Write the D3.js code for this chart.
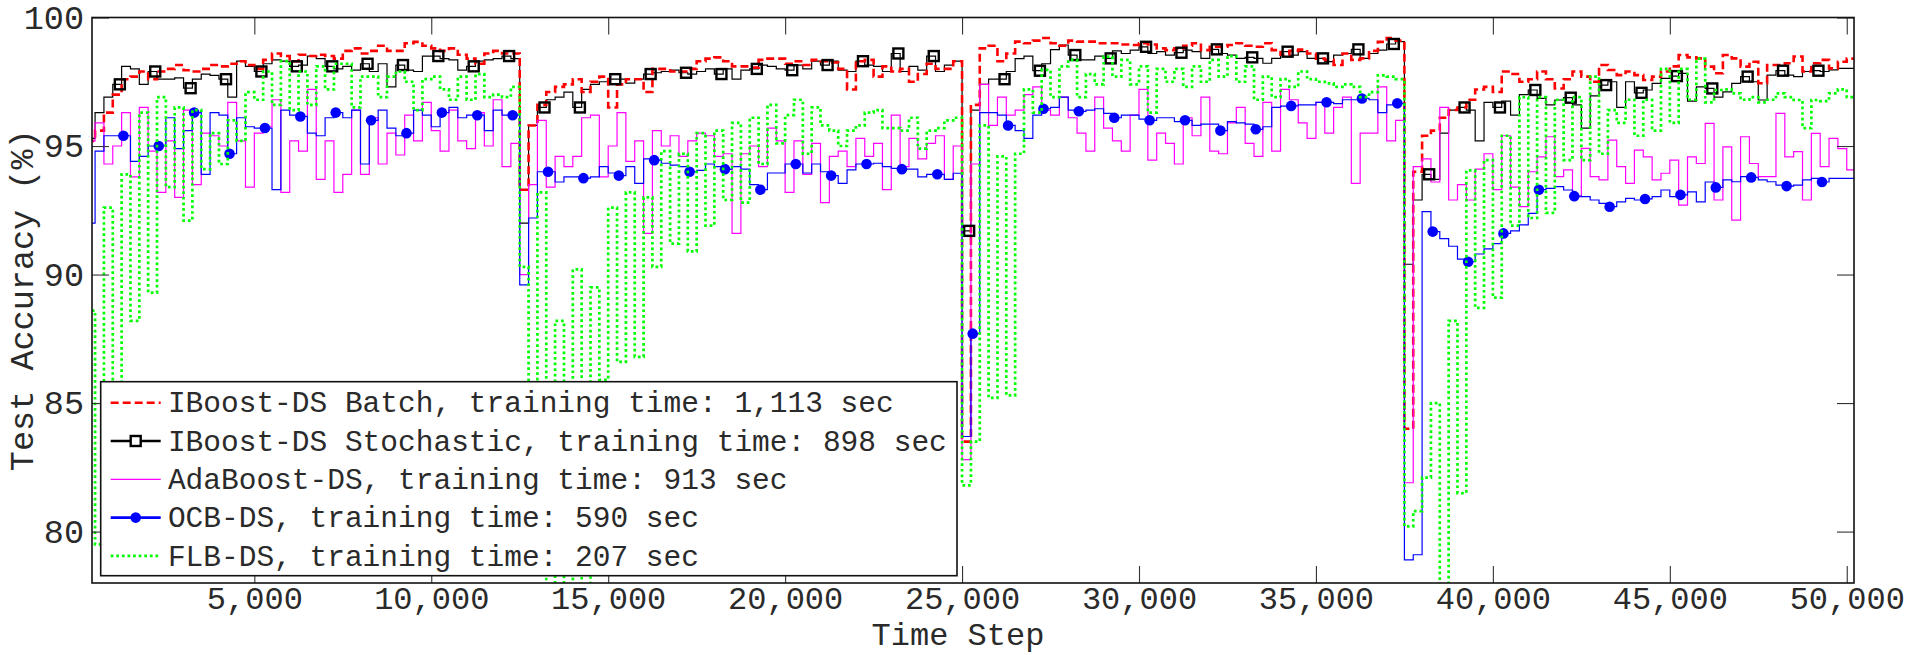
<!DOCTYPE html>
<html>
<head>
<meta charset="utf-8">
<script src="https://d3js.org/d3.v7.min.js"></script>
<style>
  html, body { margin: 0; padding: 0; background: #fff; }
  svg { display: block; }
  text { font-family: "Courier New", "Liberation Mono", monospace; fill: #2a2a2a; font-size: 33.5px; }
  text.legend-label { font-size: 29.5px; }
  .x-bottom text, text.x-title { font-size: 32px; }
</style>
</head>
<body>
<svg id="chart" width="1913" height="655"></svg>
<script>
// one reading every 250 time steps, 250 .. 50,000
var timeSteps = d3.range(250, 50001, 250);

// concept drift at 12,500 / 25,000 / 37,500 -> one row per segment
var batchAcc = [
  95.2,95.6,96.3,97.0,97.6,97.7,97.9,97.6,97.9,98.0,98.15,97.95,97.9,98.0,98.15,98.1,98.2,98.3,98.15,98.0,98.35,98.6,98.5,98.3,98.55,98.5,98.55,98.5,98.4,98.7,98.8,98.6,98.7,98.9,98.7,98.7,99.0,99.05,98.9,98.8,98.7,98.8,98.55,98.4,98.2,98.6,98.7,98.6,98.6,
  93.3,95.8,96.6,97.1,97.3,97.4,97.6,97.1,97.5,97.7,96.5,97.4,97.6,97.6,97.1,98.0,98.0,97.9,97.9,98.0,98.3,98.4,98.45,98.3,98.1,98.1,98.05,98.35,98.4,98.4,98.2,98.3,98.15,98.35,98.3,98.25,98.0,97.2,98.3,98.35,97.7,98.1,97.9,98.0,97.5,97.8,98.2,98.0,98.0,98.3,
  83.5,96.6,98.8,98.9,98.3,98.6,99.06,99.0,99.1,99.2,99.0,98.9,99.1,99.06,99.06,99.0,99.0,99.0,98.95,98.93,99.0,98.95,98.8,98.73,98.8,98.9,99.0,98.73,98.86,98.86,98.93,99.0,98.9,98.86,99.0,98.73,98.55,98.7,98.75,98.6,98.4,98.35,98.15,98.6,98.35,98.41,98.7,99.05,99.2,99.1,
  84.0,94.0,95.4,95.6,96.1,96.4,96.5,96.8,97.2,97.3,97.1,97.9,97.8,97.5,97.6,97.9,97.6,97.24,97.6,97.9,97.7,97.5,98.15,97.96,97.76,97.9,97.76,97.57,97.7,97.9,98.1,98.54,98.45,98.41,98.09,97.83,98.54,98.41,98.09,98.28,97.44,98.15,98.15,98.22,98.48,97.9,98.22,98.35,98.02,98.28,98.4
];
var stochasticAcc = [
  95.3,96.3,96.9,97.4,98.1,98.0,97.4,97.9,97.6,97.6,97.65,97.25,97.6,97.8,97.75,97.6,96.9,98.3,98.1,97.9,98.2,98.35,98.3,98.1,98.15,98.5,98.4,98.1,98.0,98.1,97.95,98.2,97.9,98.2,97.3,98.15,97.95,97.9,98.5,98.5,98.4,98.35,97.95,98.1,98.3,98.35,98.4,98.5,98.4,
  92.0,95.8,96.5,96.8,96.9,97.1,96.5,97.2,97.4,97.5,97.6,97.6,97.45,97.6,97.8,97.85,97.9,97.95,97.85,97.8,97.9,98.0,97.8,98.0,97.6,97.95,98.0,98.15,98.1,98.0,97.95,98.15,98.0,98.3,98.15,98.3,97.95,97.9,98.3,98.15,98.1,97.9,98.6,97.9,98.1,97.95,98.5,97.9,98.15,98.3,
  91.7,96.4,97.4,97.6,97.6,97.9,98.4,98.5,97.93,98.2,98.75,98.93,98.54,98.35,98.35,98.5,98.41,98.7,98.6,98.73,98.86,98.6,98.67,98.54,98.63,98.73,98.67,98.41,98.76,98.6,98.54,98.41,98.45,98.41,98.22,98.41,98.67,98.54,98.67,98.41,98.41,98.28,98.54,98.6,98.76,98.41,98.6,98.73,98.97,99.06,
  90.4,92.9,93.9,93.7,95.5,96.4,96.5,96.4,95.2,96.7,96.5,96.75,96.2,97.0,97.18,96.85,96.6,96.79,96.88,96.6,95.7,96.95,97.37,97.5,96.5,97.5,97.07,97.18,97.44,97.63,97.72,97.83,96.75,97.3,97.24,96.9,97.11,97.44,97.7,97.5,96.79,97.76,97.93,97.76,97.7,97.9,97.93,97.9,97.96,98.02,98.02
];
var adaboostAcc = [
  95.2,95.9,94.3,95.0,96.3,93.8,96.5,94.8,93.2,95.2,93.0,96.4,93.5,95.5,95.4,95.0,96.7,95.2,93.4,95.5,95.75,96.8,93.2,95.2,94.8,97.2,93.7,95.2,93.2,93.9,96.4,93.9,96.1,94.3,95.5,94.65,96.2,95.2,96.7,95.6,94.8,96.4,95.2,94.9,96.3,95.0,96.8,94.2,95.1,
  90.0,93.5,96.0,93.4,94.6,94.2,94.6,96.1,96.2,93.8,95.0,96.3,94.4,95.2,91.6,95.6,95.0,95.4,94.6,95.2,95.5,95.4,94.6,94.7,91.6,94.7,95.0,94.2,95.7,95.2,93.2,95.2,93.9,95.1,92.8,94.6,94.8,94.2,95.3,94.6,95.1,93.3,96.2,94.2,95.3,94.5,95.1,95.4,93.7,95.0,
  82.8,94.3,97.4,95.8,96.9,96.2,96.4,97.0,97.3,96.4,96.2,96.9,96.1,95.5,94.8,96.9,95.7,95.2,94.8,96.2,97.2,94.45,95.5,95.1,94.3,96.1,95.4,96.9,94.8,94.7,95.9,96.5,95.1,94.6,96.7,94.8,97.2,96.8,95.9,95.3,96.7,95.5,96.5,96.9,93.55,95.5,95.5,97.3,95.2,96.0,
  81.9,94.2,94.5,93.6,96.5,92.9,93.5,92.9,94.1,94.7,93.3,95.4,93.4,92.64,94.0,94.58,95.36,93.81,94.07,93.03,94.91,93.81,93.68,95.23,94.2,93.55,94.84,94.58,93.68,93.94,94.45,92.7,94.58,94.32,95.88,92.9,94.97,92.12,95.36,94.32,93.81,93.81,96.27,94.58,94.78,92.9,95.49,94.2,95.3,94.9,94.07
];
var ocbAcc = [
  92.0,94.8,95.4,95.4,95.4,94.4,94.6,95.0,95.0,96.1,94.9,95.6,96.3,93.9,96.3,96.2,94.7,96.1,95.75,95.7,95.7,93.3,96.4,96.2,96.15,95.5,95.4,96.1,96.3,96.1,96.4,94.3,96.0,96.4,95.7,95.4,95.5,96.4,96.2,95.75,96.3,96.5,96.1,96.2,96.2,95.6,96.4,96.2,96.2,
  89.6,92.2,94.0,94.0,93.6,93.8,93.8,93.75,93.8,94.2,93.95,93.85,94.2,93.55,94.5,94.45,94.33,94.26,94.2,94.0,94.05,94.3,94.2,94.1,94.2,94.1,93.5,93.3,93.95,93.95,94.3,94.3,93.95,94.3,94.0,93.85,93.55,94.07,94.3,94.3,94.33,94.2,94.13,94.1,94.1,93.8,93.9,93.9,93.7,93.94,
  83.7,87.7,96.3,96.3,96.2,95.8,95.6,95.3,96.2,96.45,96.5,96.9,96.4,96.35,96.4,96.45,96.27,96.1,96.2,96.2,96.05,96.0,96.1,96.1,95.95,96.0,95.8,95.85,95.85,95.6,95.95,95.9,95.85,95.65,95.75,96.5,96.55,96.56,96.6,96.6,96.7,96.7,96.65,96.8,96.8,96.85,96.8,96.3,96.6,96.66,
  78.9,79.1,92.45,91.67,91.4,91.1,90.6,90.5,90.8,91.0,91.2,91.6,91.7,91.93,92.38,93.3,93.35,93.42,93.29,93.05,93.03,92.9,92.77,92.64,92.83,92.96,92.9,92.94,93.03,93.29,93.03,93.1,93.22,92.83,93.6,93.39,93.68,93.61,93.81,93.78,93.68,93.61,93.48,93.44,93.48,93.68,93.74,93.6,93.74,93.74,93.74
];
var flbAcc = [
  88.6,79.5,92.6,83.0,93.9,88.2,96.3,89.3,96.9,93.4,96.5,92.1,96.4,94.1,95.5,94.3,96.0,95.2,97.1,96.8,97.9,96.6,98.3,96.4,97.9,96.6,98.1,97.2,98.2,98.2,96.5,97.7,97.7,96.9,97.7,97.9,97.5,96.4,97.6,97.7,97.2,96.8,97.7,96.8,97.8,96.9,97.0,96.9,97.3,
  90.3,85.0,93.2,77.5,88.2,77.5,90.2,77.5,89.5,85.9,92.6,86.6,93.2,86.8,93.0,90.3,94.8,91.2,94.7,90.9,95.5,91.9,95.6,92.9,95.9,92.8,96.1,94.3,96.6,95.1,96.2,96.8,94.7,96.5,95.8,95.6,95.0,95.6,95.8,96.3,96.4,95.7,95.7,95.6,96.1,94.9,95.6,95.7,96.0,96.1,
  81.8,83.5,95.8,85.2,94.6,85.3,94.7,97.2,96.3,97.96,96.9,98.1,98.35,96.9,97.8,97.4,98.48,97.7,98.35,97.4,98.1,96.3,98.0,97.5,98.0,97.3,98.1,97.5,98.35,97.7,98.5,97.5,98.1,96.8,97.7,96.9,97.6,97.3,97.9,97.6,97.5,97.44,97.3,97.4,97.3,96.9,97.1,97.75,97.7,97.6,
  80.2,80.8,82.1,85.0,77.5,88.2,81.5,94.05,88.7,94.45,89.1,95.4,91.9,96.9,92.2,96.9,92.4,96.8,94.45,96.9,94.45,97.7,94.7,96.4,95.9,96.8,95.4,96.8,95.6,98.0,95.9,98.0,96.8,98.4,96.7,97.18,97.2,97.05,96.8,96.9,96.7,96.8,97.05,96.9,96.79,95.7,96.79,96.75,97.05,97.2,96.9
];

var seriesNames = [
  'IBoost-DS Batch, training time: 1,113 sec',
  'IBoost-DS Stochastic, training time: 898 sec',
  'AdaBoost-DS, training time: 913 sec',
  'OCB-DS, training time: 590 sec',
  'FLB-DS, training time: 207 sec'
];
var xTickValues = [5000, 10000, 15000, 20000, 25000, 30000, 35000, 40000, 45000, 50000];
var yTickValues = [80, 85, 90, 95, 100];

// marker every 1000 steps, like MATLAB MarkerIndices
var squareSteps = d3.range(1200, 50000, 1000);
var dotSteps = d3.range(1300, 50000, 1000);

var plot = {left: 92, top: 17.5, right: 1854, bottom: 583};
var tickLen = 17;

var svg = d3.select('#chart');

var x = d3.scaleLinear().domain([413, 50205]).range([plot.left, plot.right]);
var y = d3.scaleLinear().domain([78, 100]).range([plot.bottom, plot.top]);

svg.append('clipPath').attr('id', 'plot-clip')
  .append('rect')
  .attr('x', plot.left).attr('y', plot.top)
  .attr('width', plot.right - plot.left).attr('height', plot.bottom - plot.top);

var stepLine = d3.line()
  .x(function(d) { return x(d[0]); })
  .y(function(d) { return y(d[1]); })
  .curve(d3.curveStepAfter);

function toPoints(values) {
  var pts = values.map(function(v, i) { return [timeSteps[i], v]; });
  pts.push([x.domain()[1], values[values.length - 1]]);
  return pts;
}
function valueAt(values, t) {
  return values[Math.floor(t / 250) - 1];
}

var styles = [
  {color: '#ff0000', width: 2.6, dash: '8,4'},
  {color: '#000000', width: 1.2, dash: null},
  {color: '#ff00ff', width: 1.2, dash: null},
  {color: '#0000ff', width: 1.2, dash: null},
  {color: '#00ff00', width: 2.7, dash: '2.7,2.9'}
];
var allValues = [batchAcc, stochasticAcc, adaboostAcc, ocbAcc, flbAcc];

var g = svg.append('g').attr('clip-path', 'url(#plot-clip)');

function drawSeries(idx) {
  var s = styles[idx];
  g.append('path')
    .datum(toPoints(allValues[idx]))
    .attr('d', stepLine)
    .attr('fill', 'none')
    .attr('stroke', s.color)
    .attr('stroke-width', s.width)
    .attr('stroke-dasharray', s.dash)
    .attr('stroke-linejoin', 'miter');
}

drawSeries(1);
drawSeries(0);
drawSeries(2);
drawSeries(3);

g.selectAll('rect.sq')
  .data(squareSteps)
  .enter().append('rect')
  .attr('class', 'sq')
  .attr('x', function(t) { return x(t) - 5; })
  .attr('y', function(t) { return y(valueAt(stochasticAcc, t)) - 5; })
  .attr('width', 10).attr('height', 10)
  .attr('fill', 'none')
  .attr('stroke', '#000')
  .attr('stroke-width', 2.4);

g.selectAll('circle.dot')
  .data(dotSteps)
  .enter().append('circle')
  .attr('class', 'dot')
  .attr('cx', function(t) { return x(t); })
  .attr('cy', function(t) { return y(valueAt(ocbAcc, t)); })
  .attr('r', 5.3)
  .attr('fill', '#0000ff');

drawSeries(4);

// axes, MATLAB style: ticks inward on all four sides
function styleAxis(sel) {
  sel.select('.domain').remove();
  sel.selectAll('.tick line').attr('stroke', '#333').attr('stroke-width', 1.1);
  sel.attr('font-size', null).attr('font-family', null);
}

svg.append('g')
  .attr('class', 'x-bottom')
  .attr('transform', 'translate(0,' + plot.bottom + ')')
  .call(d3.axisBottom(x).tickValues(xTickValues).tickSize(-tickLen).tickPadding(3).tickFormat(d3.format(',')))
  .call(styleAxis);

svg.append('g')
  .attr('transform', 'translate(0,' + plot.top + ')')
  .call(d3.axisTop(x).tickValues(xTickValues).tickSize(-tickLen).tickFormat(function() { return ''; }))
  .call(styleAxis);

svg.append('g')
  .attr('transform', 'translate(' + plot.left + ',0)')
  .call(d3.axisLeft(y).tickValues(yTickValues).tickSize(-tickLen).tickPadding(8))
  .call(styleAxis);

svg.append('g')
  .attr('transform', 'translate(' + plot.right + ',0)')
  .call(d3.axisRight(y).tickValues(yTickValues).tickSize(-tickLen).tickFormat(function() { return ''; }))
  .call(styleAxis);

svg.append('rect')
  .attr('x', plot.left).attr('y', plot.top)
  .attr('width', plot.right - plot.left).attr('height', plot.bottom - plot.top)
  .attr('fill', 'none').attr('stroke', '#111').attr('stroke-width', 1.6);

svg.append('text')
  .attr('class', 'x-title')
  .attr('x', 958).attr('y', 645)
  .attr('text-anchor', 'middle')
  .text('Time Step');

svg.append('text')
  .attr('transform', 'translate(24,' + ((plot.top + plot.bottom) / 2) + ') rotate(-90)')
  .attr('text-anchor', 'middle')
  .attr('dominant-baseline', 'central')
  .text('Test Accuracy (%)');

// legend
var legend = {left: 100.7, top: 381.7, right: 957, bottom: 575.7, row0: 402.7, rowGap: 38.3};
var lg = svg.append('g');
lg.append('rect')
  .attr('x', legend.left).attr('y', legend.top)
  .attr('width', legend.right - legend.left).attr('height', legend.bottom - legend.top)
  .attr('fill', '#fff').attr('stroke', '#111').attr('stroke-width', 1.6);

seriesNames.forEach(function(name, i) {
  var cy = legend.row0 + i * legend.rowGap;
  var s = styles[i];
  lg.append('line')
    .attr('x1', 110.7).attr('x2', 160.7)
    .attr('y1', cy).attr('y2', cy)
    .attr('stroke', s.color)
    .attr('stroke-width', (i == 1 || i == 3) ? 2.6 : s.width)
    .attr('stroke-dasharray', s.dash);
  if (i == 1) {
    lg.append('rect')
      .attr('x', 130.7).attr('y', cy - 5).attr('width', 10).attr('height', 10)
      .attr('fill', '#fff').attr('stroke', '#000').attr('stroke-width', 2.4);
  }
  if (i == 3) {
    lg.append('circle').attr('cx', 135.7).attr('cy', cy).attr('r', 5.3).attr('fill', '#0000ff');
  }
  lg.append('text')
    .attr('class', 'legend-label')
    .attr('x', 167.9).attr('y', cy + 9.7)
    .text(name);
});
</script>
</body>
</html>
